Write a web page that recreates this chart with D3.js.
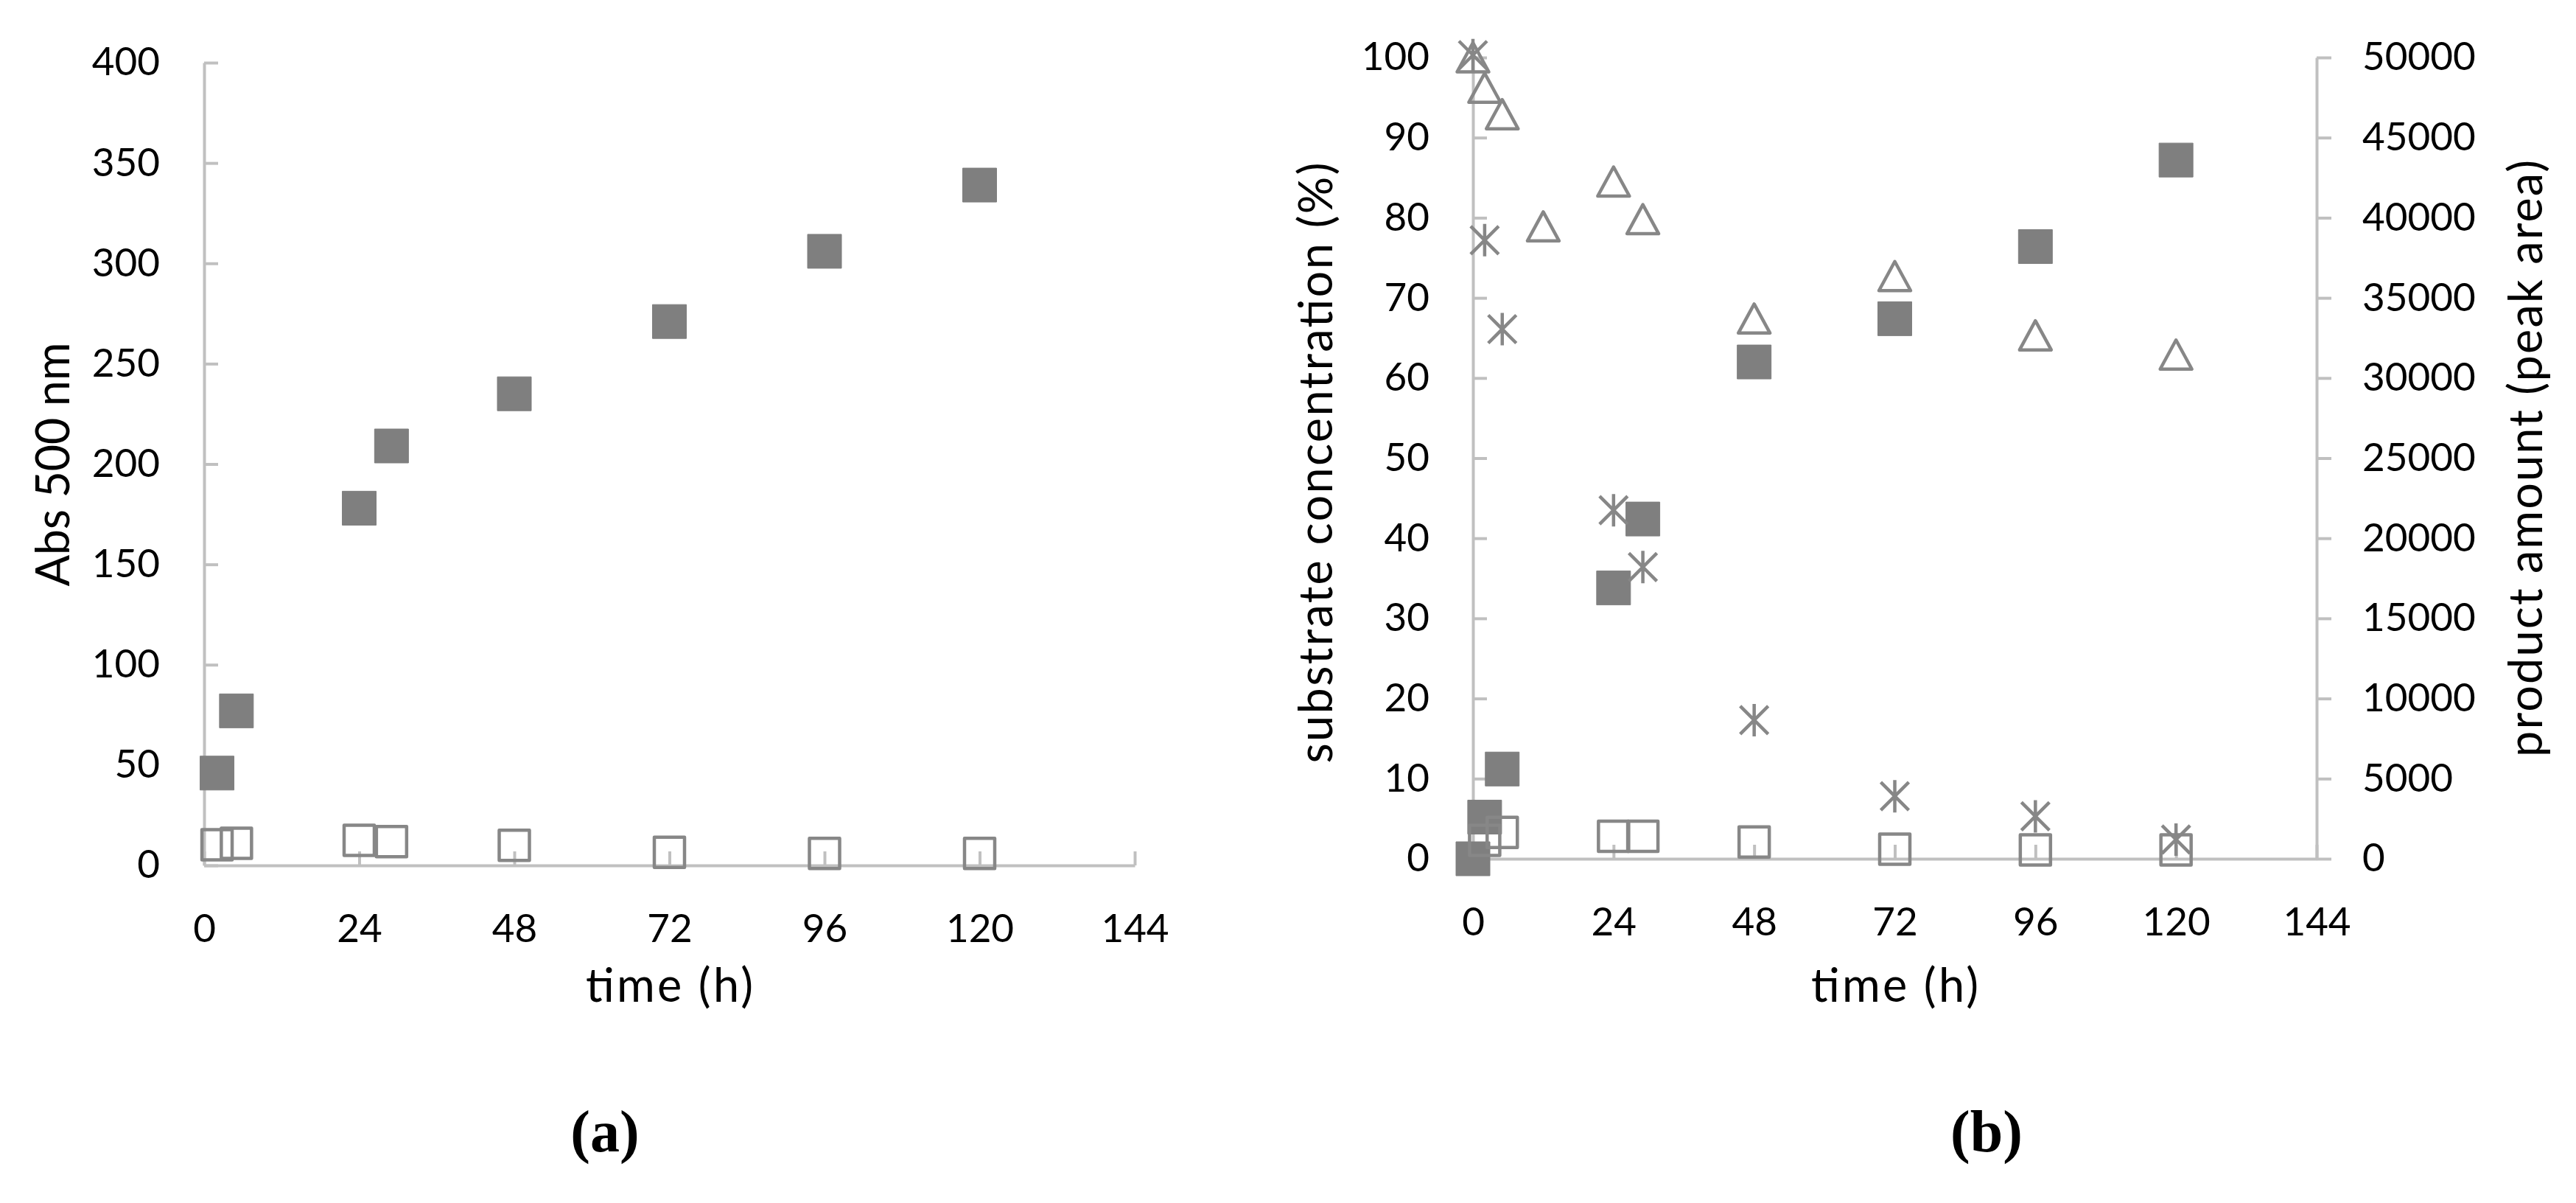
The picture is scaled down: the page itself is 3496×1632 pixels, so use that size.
<!DOCTYPE html>
<html>
<head>
<meta charset="utf-8">
<script src="https://cdn.jsdelivr.net/npm/d3@7"></script>
<style>
  body { margin: 0; background: #fff; }
  text { font-family: Lato, "Open Sans", sans-serif; fill: #000; }
  .panelLabel { font-family: "Liberation Serif", "Times New Roman", serif; font-weight: bold; }
</style>
</head>
<body>
<div id="chart"></div>
<script>
// panel (a): absorbance at 500 nm
const timeA = [2, 5, 24, 29, 48, 72, 96, 120];
const absFilled = [46, 77, 178, 209, 235, 271, 306, 339];
const absOpen = [10.3, 11, 12.5, 11.8, 10, 6.5, 6, 6];

// panel (b): substrate (%) on the left axis, product (peak area) on the right axis
const timeTriangle = [0, 2, 5, 12, 24, 29, 48, 72, 96, 120];
const substrateTriangle = [100, 96.2, 92.9, 78.9, 84.5, 79.8, 67.4, 72.7, 65.3, 62.9];
const timeStar = [0, 2, 5, 24, 29, 48, 72, 96, 120];
const substrateStar = [100.3, 77.2, 66.1, 43.5, 36.4, 17.3, 7.8, 5.3, 2.4];
const timeProdFilled = [0, 2, 5, 24, 29, 48, 72, 96, 120];
const prodFilled = [0, 2600, 5600, 16900, 21200, 31000, 33700, 38200, 43600];
const timeProdOpen = [2, 5, 24, 29, 48, 72, 96, 120];
const prodOpen = [1150, 1650, 1400, 1400, 1050, 600, 550, 550];

const timeTicks = [0, 24, 48, 72, 96, 120, 144];

const svgWidth = 3496;
const svgHeight = 1632;

const axisColor = '#c0c0c0';
const markColor = '#7f7f7f';
const lineColor = '#878787';

const svg = d3.select('#chart')
  .append('svg')
  .attr('width', svgWidth)
  .attr('height', svgHeight);

svg.append('rect')
  .attr('width', svgWidth)
  .attr('height', svgHeight)
  .attr('fill', '#fff');

const zip = (xs, ys) => xs.map((t, i) => ({t: t, v: ys[i]}));

// marker shapes, drawn around (0,0)
const filledSquare = 'M-23,-23H23V23H-23Z';
const openSquare = 'M-20.5,-20.5H20.5V20.5H-20.5Z';
const triangle = 'M0,-20L21.5,19.5H-21.5Z';
const star = 'M0,-22V22M-19,-19L19,19M19,-19L-19,19';

function drawAxisStyle(g) {
  g.select('.domain').attr('stroke', axisColor).attr('stroke-width', 4);
  g.selectAll('.tick line').attr('stroke', axisColor).attr('stroke-width', 4);
  g.selectAll('.tick text').attr('font-size', 53).attr('fill', '#000');
}

function addMarks(g, data, x, y, path, filled) {
  g.append('g')
    .selectAll('path')
    .data(data)
    .enter()
    .append('path')
    .attr('transform', d => `translate(${x(d.t)},${y(d.v)})`)
    .attr('d', path)
    .attr('fill', filled ? markColor : 'none')
    .attr('stroke', filled ? markColor : lineColor)
    .attr('stroke-width', filled ? 1 : 4.5)
    .attr('stroke-linejoin', 'round');
}

// axis titles, stretched to the width they have in the picture
function addTitle(g, x, y, rotate, label, len) {
  g.append('text')
    .attr('transform', `translate(${x}, ${y})` + (rotate ? ' rotate(-90)' : ''))
    .attr('text-anchor', 'middle')
    .attr('font-size', 63)
    .attr('textLength', len)
    .attr('lengthAdjust', 'spacing')
    .text(label);
}

// ---------- panel (a) ----------
const xA = d3.scaleLinear().domain([0, 144]).range([277, 1540]);
const yA = d3.scaleLinear().domain([0, 400]).range([1174, 85]);

const gA = svg.append('g');

gA.append('g')
  .attr('transform', `translate(0, ${yA(0)})`)
  .call(d3.axisBottom(xA).tickValues(timeTicks).tickSize(-19).tickSizeOuter(0).tickPadding(66))
  .call(drawAxisStyle);

gA.append('g')
  .attr('transform', `translate(${xA(0)}, 0)`)
  .call(d3.axisLeft(yA).ticks(8).tickSize(-19).tickSizeOuter(0).tickPadding(60))
  .call(drawAxisStyle);

addMarks(gA, zip(timeA, absFilled), xA, yA, filledSquare, true);
addMarks(gA, zip(timeA, absOpen), xA, yA, openSquare, false);

addTitle(gA, 94, 630, true, 'Abs 500 nm', 331);
addTitle(gA, (xA(0) + xA(144)) / 2, 1359, false, 'time (h)', 227);

gA.append('text')
  .attr('class', 'panelLabel')
  .attr('x', 821)
  .attr('y', 1562)
  .attr('text-anchor', 'middle')
  .attr('font-size', 80)
  .text('(a)');

// ---------- panel (b) ----------
const xB = d3.scaleLinear().domain([0, 144]).range([1999, 3144]);
const yB = d3.scaleLinear().domain([0, 100]).range([1165, 78]);
const yB2 = d3.scaleLinear().domain([0, 50000]).range([1165, 78]);

const gB = svg.append('g');

gB.append('g')
  .attr('transform', `translate(0, ${yB(0)})`)
  .call(d3.axisBottom(xB).tickValues(timeTicks).tickSize(-19).tickSizeOuter(0).tickPadding(66))
  .call(drawAxisStyle);

gB.append('g')
  .attr('transform', `translate(${xB(0)}, 0)`)
  .call(d3.axisLeft(yB).ticks(10).tickSize(-19).tickSizeOuter(0).tickPadding(59))
  .call(drawAxisStyle);

gB.append('g')
  .attr('transform', `translate(${xB(144)}, 0)`)
  .call(d3.axisRight(yB2).ticks(10).tickFormat(d3.format('d')).tickSize(20).tickSizeOuter(0).tickPadding(42))
  .call(drawAxisStyle);

addMarks(gB, zip(timeProdFilled, prodFilled), xB, yB2, filledSquare, true);
addMarks(gB, zip(timeProdOpen, prodOpen), xB, yB2, openSquare, false);
addMarks(gB, zip(timeTriangle, substrateTriangle), xB, yB, triangle, false);
addMarks(gB, zip(timeStar, substrateStar), xB, yB, star, false);

addTitle(gB, 1808, 628, true, 'substrate concentration (%)', 815);
addTitle(gB, 3450, 622, true, 'product amount (peak area)', 810);
addTitle(gB, (xB(0) + xB(144)) / 2, 1359, false, 'time (h)', 227);

gB.append('text')
  .attr('class', 'panelLabel')
  .attr('x', 2696)
  .attr('y', 1562)
  .attr('text-anchor', 'middle')
  .attr('font-size', 80)
  .text('(b)');
</script>
</body>
</html>
